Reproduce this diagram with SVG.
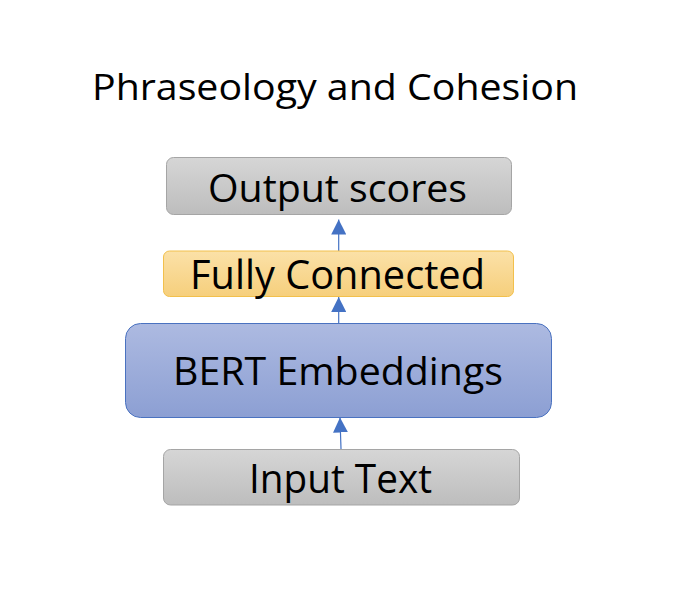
<svg xmlns="http://www.w3.org/2000/svg" width="690" height="598" viewBox="0 0 690 598">
<defs>
<linearGradient id="gGray" x1="0" y1="0" x2="0" y2="1"><stop offset="0" stop-color="#d6d6d6"/><stop offset="1" stop-color="#bdbdbd"/></linearGradient>
<linearGradient id="gGold" x1="0" y1="0" x2="0" y2="1"><stop offset="0" stop-color="#fbe1a8"/><stop offset="1" stop-color="#f6cf7c"/></linearGradient>
<linearGradient id="gBlue" x1="0" y1="0" x2="0" y2="1"><stop offset="0" stop-color="#adbae1"/><stop offset="1" stop-color="#8c9fd3"/></linearGradient>
<marker id="arr" viewBox="0 0 10 10" refX="10" refY="5" markerWidth="15" markerHeight="15" markerUnits="userSpaceOnUse" orient="auto"><path d="M0,0 L10,5 L0,10 Z" fill="#4472c4"/></marker>
<style>
text{font-family:"Open Sans","Liberation Sans",sans-serif;fill:#000;text-anchor:middle}
.gray{fill:url(#gGray);stroke:#a5a5a5;stroke-width:1}
.gold{fill:url(#gGold);stroke:#f2c04c;stroke-width:1}
.blue{fill:url(#gBlue);stroke:#4a72c0;stroke-width:1}
.conn{stroke:#4472c4;stroke-width:1.2;fill:none}
</style>
</defs>
<rect width="690" height="598" fill="#fff"/>
<text id="title" x="335" y="100" font-size="37" textLength="486" lengthAdjust="spacingAndGlyphs">Phraseology and Cohesion</text>
<g id="connectors">
<line class="conn" x1="338.7" y1="251" x2="338.7" y2="219.5" marker-end="url(#arr)"/>
<line class="conn" x1="338.7" y1="323" x2="338.7" y2="297" marker-end="url(#arr)"/>
<line class="conn" x1="341" y1="449" x2="340" y2="417.5" marker-end="url(#arr)"/>
</g>
<g id="output">
<rect class="gray" x="166.5" y="157.5" width="345" height="57" rx="7"/>
<text x="337.5" y="201.5" font-size="38" textLength="259" lengthAdjust="spacingAndGlyphs">Output scores</text>
</g>
<g id="fc">
<rect class="gold" x="163.5" y="251" width="350" height="45.5" rx="6"/>
<text x="337.5" y="289.3" font-size="40" textLength="295" lengthAdjust="spacingAndGlyphs">Fully Connected</text>
</g>
<g id="bert">
<rect class="blue" x="125.5" y="323.5" width="426" height="94" rx="15"/>
<text x="338" y="385" font-size="39" textLength="330" lengthAdjust="spacingAndGlyphs">BERT Embeddings</text>
</g>
<g id="input">
<rect class="gray" x="163.5" y="449.5" width="356" height="55.5" rx="7"/>
<text x="340.5" y="492.7" font-size="40" textLength="183" lengthAdjust="spacingAndGlyphs">Input Text</text>
</g>
</svg>
